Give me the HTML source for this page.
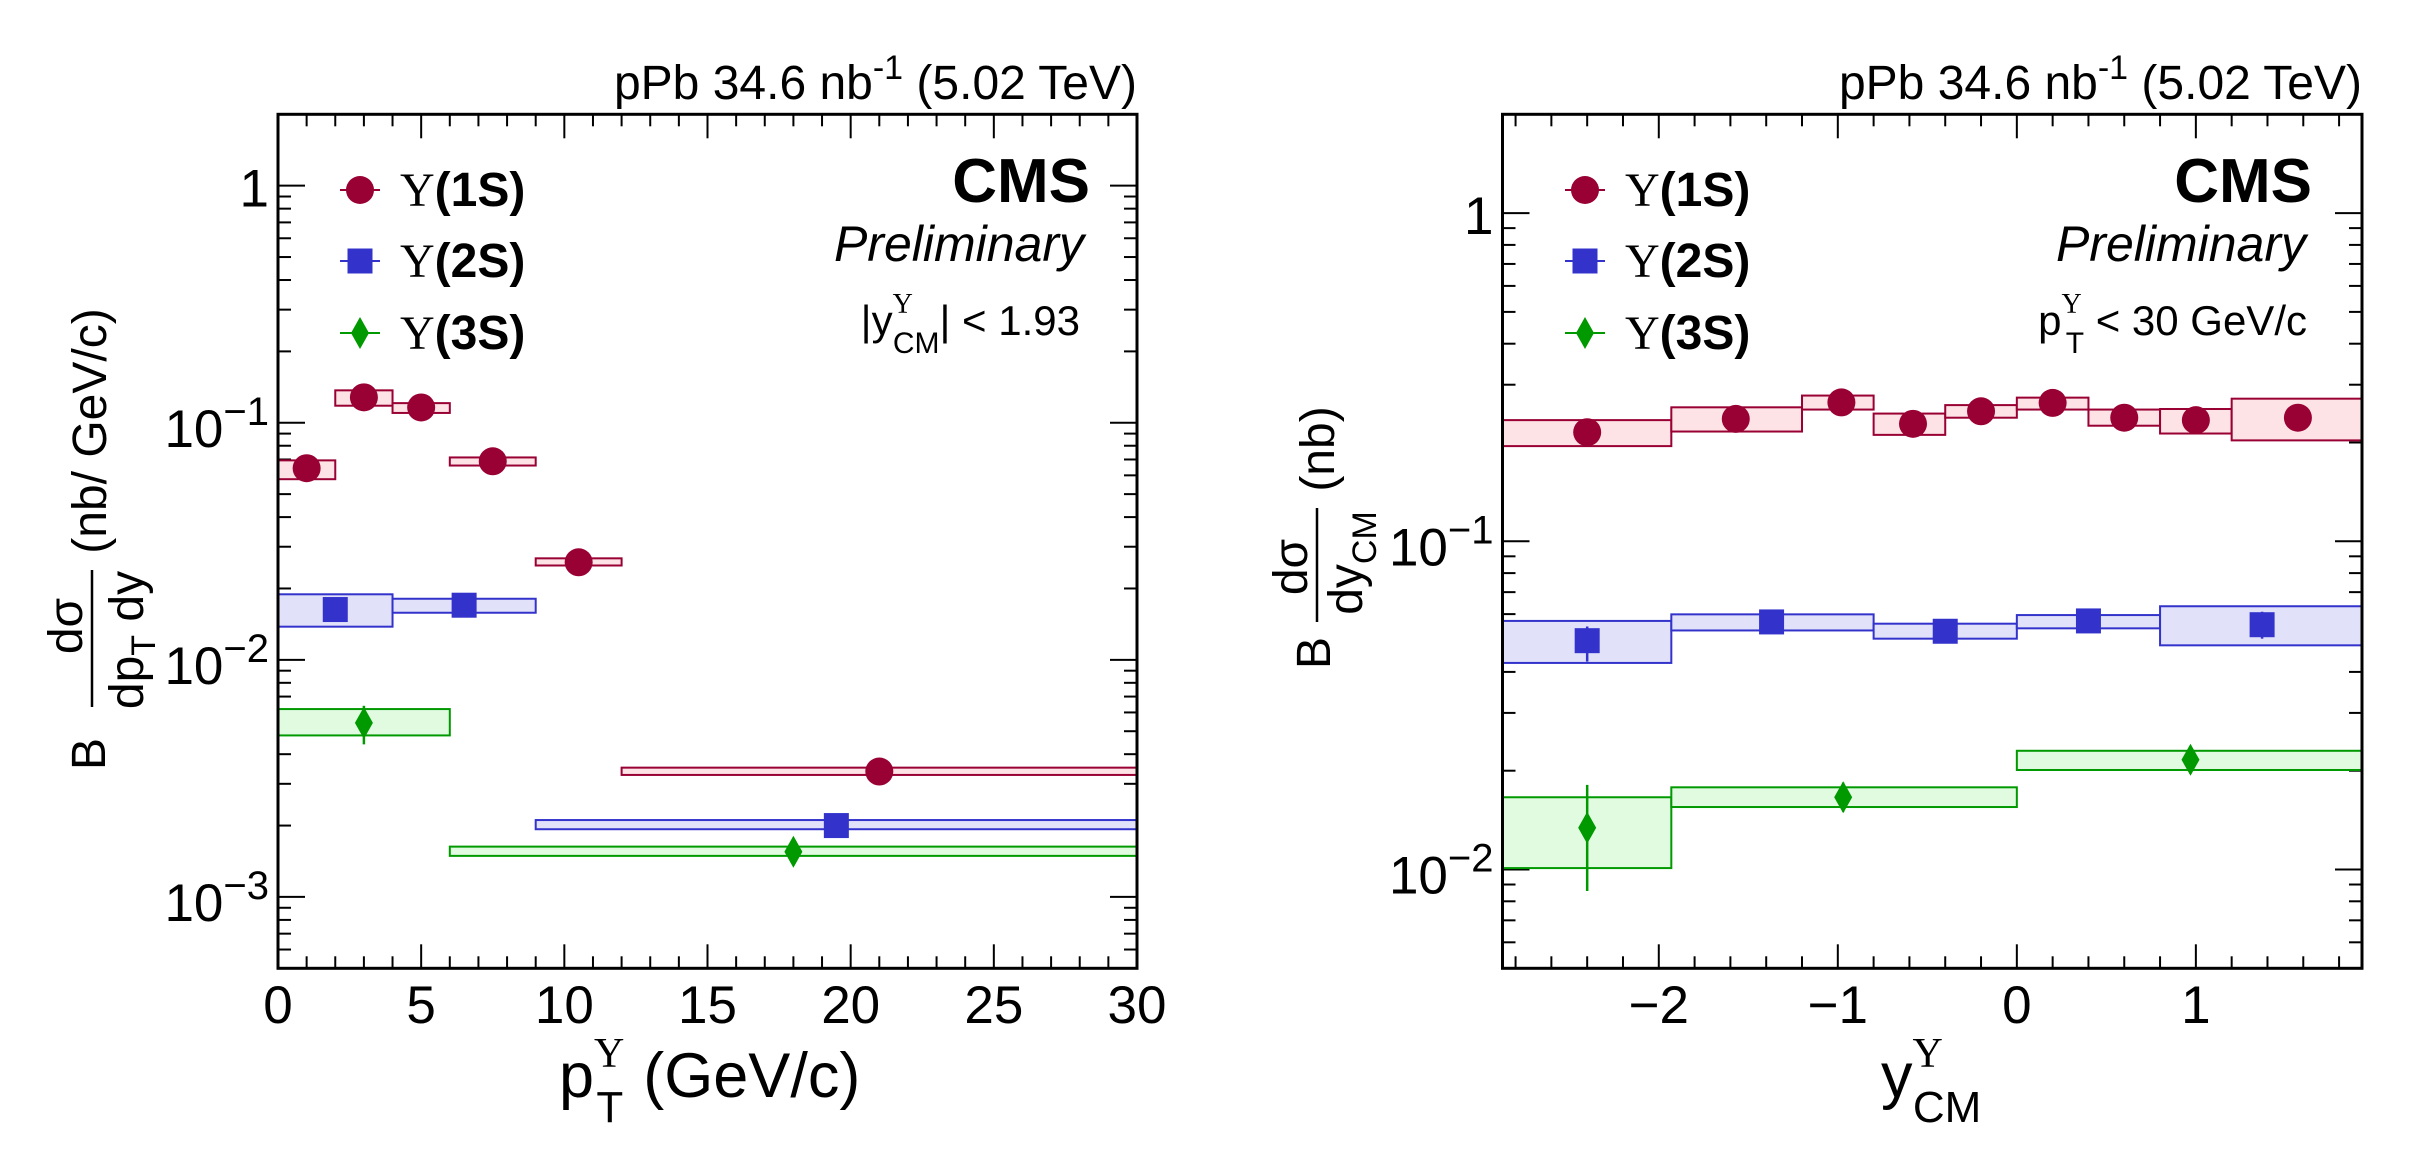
<!DOCTYPE html>
<html><head><meta charset="utf-8"><style>
html,body{margin:0;padding:0;background:#fff;}
svg{display:block;}
text{font-family:"Liberation Sans",sans-serif;fill:#000;}
.serif{font-family:"Liberation Serif",serif;}
</style></head><body>
<svg id="chart" width="2435" height="1154" viewBox="0 0 2435 1154" xmlns="http://www.w3.org/2000/svg"></svg>
<script>
// ---------- Left panel data (pT) ----------
const ptS1Lo=[0,2,4,6,9,12], ptS1Hi=[2,4,6,9,12,30], ptS1X=[1,3,5,7.5,10.5,21];
const ptS1Val=[0.0643,0.128,0.116,0.0688,0.0258,0.00338];
const ptS1SysLo=[0.0578,0.118,0.110,0.0660,0.0250,0.00327];
const ptS1SysHi=[0.0694,0.137,0.121,0.0714,0.0268,0.00351];
const ptS1ErrLo=[0.061,0.124,0.113,0.067,0.0252,0.00326];
const ptS1ErrHi=[0.068,0.133,0.120,0.071,0.0265,0.00350];
const ptS2Lo=[0,4,9], ptS2Hi=[4,9,30], ptS2X=[2,6.5,19.5];
const ptS2Val=[0.0163,0.0170,0.0020];
const ptS2SysLo=[0.0138,0.0158,0.00193];
const ptS2SysHi=[0.0189,0.0181,0.00211];
const ptS2ErrLo=[0.0150,0.0160,0.00185];
const ptS2ErrHi=[0.0177,0.0181,0.00216];
const ptS3Lo=[0,6], ptS3Hi=[6,30], ptS3X=[3,18];
const ptS3Val=[0.00542,0.00155];
const ptS3SysLo=[0.0048,0.00149];
const ptS3SysHi=[0.0062,0.00163];
const ptS3ErrLo=[0.0044,0.00138];
const ptS3ErrHi=[0.0064,0.00172];
// ---------- Right panel data (y_CM) ----------
const yS1Lo=[-2.873,-1.93,-1.2,-0.8,-0.4,0,0.4,0.8,1.2], yS1Hi=[-1.93,-1.2,-0.8,-0.4,0,0.4,0.8,1.2,1.928];
const yS1X=[-2.4,-1.57,-0.98,-0.58,-0.2,0.2,0.6,1.0,1.57];
const yS1Val=[0.215,0.236,0.265,0.228,0.249,0.264,0.238,0.234,0.238];
const yS1SysLo=[0.195,0.216,0.252,0.211,0.238,0.252,0.225,0.213,0.203];
const yS1SysHi=[0.234,0.256,0.278,0.245,0.260,0.274,0.252,0.253,0.272];
const yS2Lo=[-2.873,-1.93,-0.8,0,0.8], yS2Hi=[-1.93,-0.8,0,0.8,1.928];
const yS2X=[-2.4,-1.37,-0.4,0.4,1.37];
const yS2Val=[0.0498,0.0568,0.0532,0.0572,0.0557];
const yS2SysLo=[0.0426,0.0535,0.0505,0.0543,0.0482];
const yS2SysHi=[0.0572,0.0599,0.0561,0.0596,0.0634];
const yS2ErrLo=[0.0430,0.0535,0.0505,0.0540,0.0505];
const yS2ErrHi=[0.0550,0.0600,0.0560,0.0600,0.0610];
const yS3Lo=[-2.873,-1.93,0], yS3Hi=[-1.93,0,1.928];
const yS3X=[-2.4,-0.97,0.97];
const yS3Val=[0.0134,0.0166,0.0216];
const yS3SysLo=[0.0101,0.0155,0.0201];
const yS3SysHi=[0.0166,0.0178,0.0230];
const yS3ErrLo=[0.0086,0.0150,0.0196];
const yS3ErrHi=[0.0181,0.0184,0.0237];
// tick labels
const ptTicks=[0,5,10,15,20,25,30];
const yTicks=[-2,-1,0,1];
const ptDecades=[0,-1,-2,-3];
const yDecades=[0,-1,-2];

const NS="http://www.w3.org/2000/svg";
const svg=document.getElementById('chart');
function el(tag,attrs,parent,txt){const e=document.createElementNS(NS,tag);for(const k in attrs)e.setAttribute(k,attrs[k]);if(txt!==undefined)e.textContent=txt;(parent||svg).appendChild(e);return e;}

const C1={stroke:'#990033',fill:'#fde2e6'},C2={stroke:'#3333cc',fill:'#e1e1fa'},C3={stroke:'#009900',fill:'#e1fbe1'};

function makePanel(o){
  const g=el('g',{});
  
  
  const X=v=>o.x0+(v-o.xmin)/(o.xmax-o.xmin)*(o.x1-o.x0);
  const Y=v=>o.yb-(Math.log10(v)-o.lmin)/(o.lmax-o.lmin)*(o.yb-o.yt);
  const tk=el('g',{stroke:'#000','stroke-width':2},g);
  
  
  for(let v=o.xmin_t;v<=o.xmax+1e-9;v+=o.minor){
    const isMaj=Math.abs(v/o.major-Math.round(v/o.major))<1e-6;
    if(v<o.xmin-1e-9)continue;
    const L=isMaj?24:12,x=X(v);
    el('line',{x1:x,x2:x,y1:o.yb,y2:o.yb-L},tk);
    el('line',{x1:x,x2:x,y1:o.yt,y2:o.yt+L},tk);
  }
  for(let d=Math.floor(o.lmin);d<=Math.ceil(o.lmax);d++){
    for(let m=1;m<=9;m++){
      const v=m*Math.pow(10,d);const lv=Math.log10(v);
      if(lv<o.lmin-1e-9||lv>o.lmax+1e-9)continue;
      const L=m===1?27:13,y=Y(v);
      el('line',{x1:o.x0,x2:o.x0+L,y1:y,y2:y},tk);
      el('line',{x1:o.x1,x2:o.x1-L,y1:y,y2:y},tk);
    }
  }
  o.xlabels.forEach(v=>{
    const t=el('text',{x:X(v),y:1023,'font-size':53,'text-anchor':'middle'},g,(v<0?'\u2212':'')+Math.abs(v));
    
    
  });
  o.decades.forEach(d=>{
    const y=Y(Math.pow(10,d))+24;
    let t;
    if(d===0){t=el('text',{x:o.x0-9,y:y-3,'font-size':53,'text-anchor':'end'},g,'1');}
    else{t=el('text',{x:o.x0-9,y:y,'font-size':53,'text-anchor':'end'},g);
      el('tspan',{},t,'10');el('tspan',{dy:-22,'font-size':40},t,'\u2212'+(-d));}
    
    
  });
  o.series.forEach(s=>{
    const sg=el('g',{},g);
    
    
    s.lo.forEach((lo,i)=>{
      const r=el('rect',{x:X(lo),y:Y(s.sh[i]),width:X(s.hi[i])-X(lo),height:Y(s.sl[i])-Y(s.sh[i]),fill:s.c.fill,stroke:s.c.stroke,'stroke-width':2},sg);
      
      
    });
    s.x.forEach((xv,i)=>{
      const cx=X(xv),cy=Y(s.v[i]);
      if(s.el){const e=el('line',{x1:cx,x2:cx,y1:Y(s.eh[i]),y2:Y(s.el[i]),stroke:s.c.stroke,'stroke-width':2.5},sg);
        
        }
      let m;
      if(s.shape==='c')m=el('circle',{cx:cx,cy:cy,r:14,fill:s.c.stroke},sg);
      else if(s.shape==='s')m=el('rect',{x:cx-12.5,y:cy-12.5,width:25,height:25,fill:s.c.stroke},sg);
      else m=el('polygon',{points:`${cx},${cy-16} ${cx+9},${cy} ${cx},${cy+16} ${cx-9},${cy}`,fill:s.c.stroke},sg);
      
      
    });
  });
  const f=el('rect',{x:o.x0,y:o.yt,width:o.x1-o.x0,height:o.yb-o.yt,fill:'none',stroke:'#000','stroke-width':3},g);
  
  
  const lg=el('g',{},g);
  
  
  [['1S',C1,'c'],['2S',C2,'s'],['3S',C3,'d']].forEach((it,k)=>{
    const y=[190,261,333][k],mx=o.legX;
    const le=el('g',{},lg);
    
    
    el('line',{x1:mx-20,x2:mx+20,y1:y,y2:y,stroke:it[1].stroke,'stroke-width':2},le);
    if(it[2]==='c')el('circle',{cx:mx,cy:y,r:14,fill:it[1].stroke},le);
    else if(it[2]==='s')el('rect',{x:mx-12.5,y:y-12.5,width:25,height:25,fill:it[1].stroke},le);
    else el('polygon',{points:`${mx},${y-16} ${mx+9},${y} ${mx},${y+16} ${mx-9},${y}`,fill:it[1].stroke},le);
    const t=el('text',{x:mx+40,y:y+16,'font-size':48},le);
    el('tspan',{class:'serif'},t,'\u03A5');
    el('tspan',{'font-weight':'bold'},t,'('+it[0]+')');
  });
  const h=el('text',{x:o.x1,y:99,'font-size':48,'text-anchor':'end'},g);
  
  
  el('tspan',{},h,'pPb 34.6 nb');el('tspan',{dy:-20,'font-size':34},h,'-1');el('tspan',{dy:20},h,' (5.02 TeV)');
  const cms=el('text',{x:o.cmsX,y:202,'font-size':62,'font-weight':'bold','text-anchor':'end'},g,'CMS');
  
  
  const pr=el('text',{x:o.cmsX-6,y:261,'font-size':50,'font-style':'italic','text-anchor':'end'},g,'Preliminary');
  
  
  return {g,X,Y};
}

const L=makePanel({name:'pt-panel',x0:278,x1:1137,xmin:0,xmax:30,xmin_t:0,major:5,minor:1,
  yt:114.3,yb:968.3,lmin:Math.log10(5e-4),lmax:Math.log10(2),xlabels:ptTicks,decades:ptDecades,legX:360,cmsX:1090,
  series:[
   {name:'upsilon-1s-pt',c:C1,shape:'c',lo:ptS1Lo,hi:ptS1Hi,x:ptS1X,v:ptS1Val,sl:ptS1SysLo,sh:ptS1SysHi,el:ptS1ErrLo,eh:ptS1ErrHi},
   {name:'upsilon-2s-pt',c:C2,shape:'s',lo:ptS2Lo,hi:ptS2Hi,x:ptS2X,v:ptS2Val,sl:ptS2SysLo,sh:ptS2SysHi,el:ptS2ErrLo,eh:ptS2ErrHi},
   {name:'upsilon-3s-pt',c:C3,shape:'d',lo:ptS3Lo,hi:ptS3Hi,x:ptS3X,v:ptS3Val,sl:ptS3SysLo,sh:ptS3SysHi,el:ptS3ErrLo,eh:ptS3ErrHi}]});
const R=makePanel({name:'rapidity-panel',x0:1502.5,x1:2362,xmin:-2.873,xmax:1.928,xmin_t:-2.8,major:1,minor:0.2,
  yt:114.3,yb:968.3,lmin:Math.log10(5e-3),lmax:Math.log10(2),xlabels:yTicks,decades:yDecades,legX:1585,cmsX:2312,
  series:[
   {name:'upsilon-1s-y',c:C1,shape:'c',lo:yS1Lo,hi:yS1Hi,x:yS1X,v:yS1Val,sl:yS1SysLo,sh:yS1SysHi},
   {name:'upsilon-2s-y',c:C2,shape:'s',lo:yS2Lo,hi:yS2Hi,x:yS2X,v:yS2Val,sl:yS2SysLo,sh:yS2SysHi,el:yS2ErrLo,eh:yS2ErrHi},
   {name:'upsilon-3s-y',c:C3,shape:'d',lo:yS3Lo,hi:yS3Hi,x:yS3X,v:yS3Val,sl:yS3SysLo,sh:yS3SysHi,el:yS3ErrLo,eh:yS3ErrHi}]});

let t=el('text',{x:1080,y:335,'font-size':42,'text-anchor':'end'});


el('tspan',{},t,'|y');el('tspan',{dy:-22,'font-size':28,class:'serif'},t,'\u03A5');el('tspan',{dx:-20,dy:40,'font-size':30},t,'CM');el('tspan',{dy:-18},t,'| < 1.93');
t=el('text',{x:2307,y:335,'font-size':42,'text-anchor':'end'});


el('tspan',{},t,'p');el('tspan',{dy:-22,'font-size':28,class:'serif'},t,'\u03A5');el('tspan',{dx:-16,dy:40,'font-size':30},t,'T');el('tspan',{dy:-18},t,' < 30 GeV/c');

function rt(x,y,size,name,parts){
  const tt=el('text',{transform:`translate(${x},${y}) rotate(-90)`,'font-size':size,'text-anchor':'middle'});
  
  
  parts.forEach(p=>el('tspan',p[1]||{},tt,p[0]));
  return tt;
}
rt(105,754,48,'y-axis-title-b',[['B']]);
rt(82,626,48,'y-axis-title-numerator',[['d\u03C3']]);
rt(143,640,48,'y-axis-title-denominator',[['dp'],['T',{dy:12,'font-size':34}],[' dy',{dy:-12}]]);
rt(106,431,48,'y-axis-title-units',[['(nb/ GeV/c)']]);
let ln=el('line',{x1:92,x2:92,y1:570,y2:707,stroke:'#000','stroke-width':2.5});


rt(1330,653,48,'y-axis-title-b-right',[['B']]);
rt(1307,567,48,'y-axis-title-numerator-right',[['d\u03C3']]);
rt(1362,563,48,'y-axis-title-denominator-right',[['dy'],['CM',{dy:14,'font-size':34}]]);
rt(1334,449,48,'y-axis-title-units-right',[['(nb)']]);
ln=el('line',{x1:1317,x2:1317,y1:508,y2:622,stroke:'#000','stroke-width':2.5});



t=el('text',{x:559,y:1097,'font-size':63});


el('tspan',{},t,'p');el('tspan',{dy:-30,'font-size':42,class:'serif'},t,'\u03A5');el('tspan',{dx:-28,dy:55,'font-size':44},t,'T');el('tspan',{dx:20,dy:-25},t,'(GeV/c)');
t=el('text',{x:1881,y:1097,'font-size':63});


el('tspan',{},t,'y');el('tspan',{dy:-30,'font-size':42,class:'serif'},t,'\u03A5');el('tspan',{dx:-30,dy:55,'font-size':44},t,'CM');
</script>
</body></html>
